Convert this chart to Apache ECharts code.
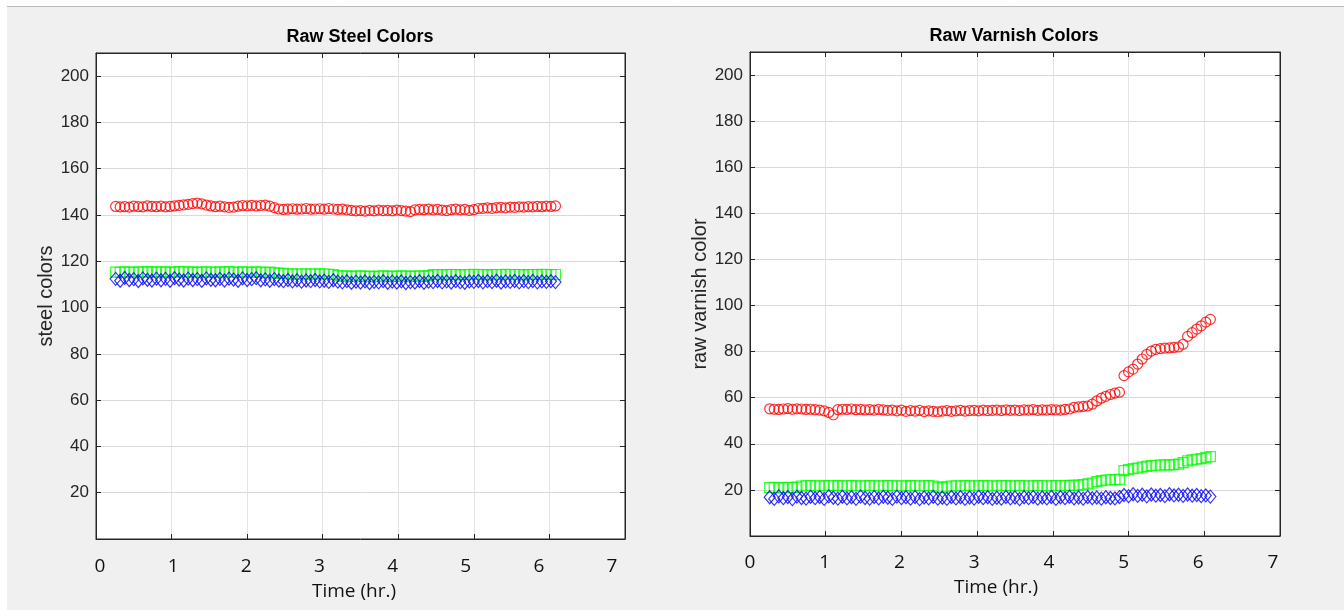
<!DOCTYPE html>
<html>
<head>
<meta charset="utf-8">
<title>Raw Steel / Varnish Colors</title>
<script src="https://cdn.jsdelivr.net/npm/echarts@6/dist/echarts.min.js"></script>
<style>
  html, body { margin: 0; padding: 0; background: #f0f0f0; }
  #main { width: 1344px; height: 610px; }
</style>
</head>
<body>
<div id="main"></div>
<script>
// sample times (hr.), shared by both panels
const timeHr = [
  0.26, 0.32, 0.38, 0.44, 0.50, 0.56, 0.62, 0.68, 0.74, 0.80,
  0.86, 0.92, 0.98, 1.04, 1.10, 1.16, 1.22, 1.28, 1.34, 1.40,
  1.46, 1.52, 1.58, 1.64, 1.70, 1.76, 1.82, 1.88, 1.94, 2.00,
  2.06, 2.12, 2.18, 2.24, 2.30, 2.36, 2.42, 2.48, 2.54, 2.60,
  2.66, 2.72, 2.78, 2.84, 2.90, 2.96, 3.02, 3.08, 3.14, 3.20,
  3.26, 3.32, 3.38, 3.44, 3.50, 3.56, 3.62, 3.68, 3.74, 3.80,
  3.86, 3.92, 3.98, 4.04, 4.10, 4.16, 4.22, 4.28, 4.34, 4.40,
  4.46, 4.52, 4.58, 4.64, 4.70, 4.76, 4.82, 4.88, 4.94, 5.00,
  5.06, 5.12, 5.18, 5.24, 5.30, 5.36, 5.42, 5.48, 5.54, 5.60,
  5.66, 5.72, 5.78, 5.84, 5.90, 5.96, 6.02, 6.08
];

// left panel: steel colors
const steelRed = [
  143.7, 143.5, 143.6, 143.4, 143.8, 143.6, 143.5, 143.9, 143.7, 143.6,
  143.8, 143.5, 143.7, 143.9, 144.2, 144.4, 144.6, 144.9, 145.1, 144.8,
  144.3, 143.9, 143.6, 143.8, 143.5, 143.3, 143.4, 143.8, 144.1, 144.0,
  144.2, 143.9, 144.1, 144.3, 143.8, 143.2, 142.6, 142.4, 142.5, 142.7,
  142.5, 142.6, 142.8, 142.5, 142.6, 142.7, 142.5, 142.8, 142.6, 142.4,
  142.5, 142.2, 142.0, 141.8, 141.9, 141.7, 142.0, 141.8, 142.1, 141.9,
  142.0, 141.8, 142.1, 141.9, 141.7, 141.5, 142.2, 142.4, 142.3, 142.5,
  142.2, 142.4, 142.1, 141.9, 142.3, 142.5, 142.2, 142.4, 142.0, 142.3,
  142.8, 142.9, 143.1, 142.9, 143.2, 143.3, 143.1, 143.4, 143.3, 143.5,
  143.4, 143.6, 143.5, 143.7, 143.6, 143.8, 143.7, 143.9
];
const steelGreen = [
  115.3, 115.2, 115.4, 115.3, 115.2, 115.4, 115.3, 115.5, 115.3, 115.4,
  115.3, 115.4, 115.2, 115.3, 115.5, 115.4, 115.3, 115.4, 115.2, 115.3,
  115.4, 115.3, 115.2, 115.4, 115.3, 115.5, 115.3, 115.2, 115.4, 115.3,
  115.2, 115.4, 115.3, 115.1, 115.3, 115.0, 114.9, 114.8, 114.5, 114.6,
  114.4, 114.5, 114.6, 114.4, 114.5, 114.6, 114.5, 114.4, 114.3, 113.8,
  113.6, 113.7, 113.5, 113.6, 113.7, 113.5, 113.6, 113.4, 113.6, 113.7,
  113.5, 113.6, 113.5, 113.7, 113.6, 113.5, 113.6, 113.7, 113.5, 113.8,
  114.2, 114.3, 114.1, 114.2, 114.3, 114.2, 114.1, 114.3, 114.2, 114.4,
  114.2, 114.3, 114.1, 114.2, 114.3, 114.2, 114.4, 114.3, 114.2, 114.3,
  114.1, 114.2, 114.3, 114.2, 114.4, 114.3, 114.2, 114.3
];
const steelBlue = [
  112.4, 111.6, 112.8, 111.9, 112.3, 111.5, 112.6, 112.0, 111.7, 112.5,
  111.8, 112.4, 111.6, 112.7, 112.1, 111.7, 112.5, 111.9, 112.3, 111.6,
  112.6, 112.0, 111.8, 112.4, 111.7, 112.5, 112.1, 111.6, 112.6, 111.9,
  112.3, 112.7, 111.8, 112.2, 111.6, 112.3, 111.7, 111.4, 111.9, 111.3,
  111.8, 111.2, 111.7, 111.4, 111.9, 111.3, 111.6, 111.1, 111.8, 111.2,
  110.9, 111.4, 110.7, 111.2, 110.8, 111.3, 110.6, 111.1, 110.9, 111.4,
  110.7, 111.2, 110.8, 111.3, 110.6, 111.0, 110.8, 111.4, 110.7, 111.2,
  111.0, 111.5, 110.9, 111.3, 110.8, 111.4, 111.0, 110.7, 111.3, 111.1,
  111.5, 110.9, 111.4, 111.0, 111.6, 110.8, 111.3, 111.1, 111.5, 110.9,
  111.4, 111.0, 111.5, 110.9, 111.3, 111.1, 111.4, 111.0
];

// right panel: raw varnish colors
const varnishRed = [
  55.2, 55.0, 54.9, 55.1, 55.3, 55.0, 55.2, 55.1, 54.9, 55.0,
  54.8, 54.6, 54.3, 53.6, 52.6, 54.8, 55.0, 54.9, 55.1, 54.8,
  54.9, 54.7, 54.8, 54.6, 54.9, 54.7, 54.5, 54.6, 54.3, 54.6,
  54.1, 54.4, 54.2, 54.5, 54.0, 54.3, 54.1, 53.9, 54.2, 54.4,
  54.1, 54.3, 54.5, 54.2, 54.4, 54.5, 54.3, 54.6, 54.4, 54.5,
  54.6, 54.4, 54.7, 54.5, 54.6, 54.4, 54.7, 54.6, 54.8, 54.5,
  54.7, 54.6, 54.8, 54.7, 54.6, 54.9, 55.1, 55.8, 56.0, 56.2,
  56.4, 57.2, 58.6, 59.8, 60.6, 61.4, 62.0, 62.4, 69.6, 71.2,
  72.4, 74.6, 76.8, 78.8, 80.2, 81.0, 81.3, 81.5, 81.6, 81.8,
  82.0, 83.2, 86.6, 88.2, 89.8, 91.2, 92.8, 94.0
];
const varnishGreen = [
  21.0, 21.1, 20.9, 21.0, 21.1, 21.0, 21.2, 21.7, 21.8, 21.9,
  21.8, 21.7, 21.9, 21.8, 21.8, 21.9, 21.7, 21.8, 21.9, 21.8,
  21.7, 21.8, 21.9, 21.8, 21.7, 21.8, 21.9, 21.8, 21.7, 21.8,
  21.6, 21.9, 21.8, 21.7, 21.8, 21.9, 21.7, 21.2, 21.1, 21.3,
  21.7, 21.8, 21.7, 21.9, 21.8, 21.7, 21.8, 21.9, 21.8, 21.7,
  21.8, 21.8, 21.9, 21.7, 21.8, 21.9, 21.8, 21.7, 21.8, 21.9,
  21.8, 21.7, 21.8, 21.9, 21.8, 21.9, 22.0, 22.0, 22.1, 22.3,
  22.6, 23.0, 23.6, 24.0, 24.3, 24.4, 24.5, 24.6, 28.4, 28.8,
  29.2, 29.5, 29.9, 30.2, 30.5, 30.7, 30.8, 30.9, 30.9, 31.0,
  31.2, 31.8, 32.6, 33.0, 33.3, 33.6, 34.0, 34.4
];
const varnishBlue = [
  16.8, 16.1, 17.2, 16.4, 16.9, 16.0, 17.1, 16.5, 16.2, 17.0,
  16.4, 16.9, 16.1, 17.2, 16.6, 16.2, 17.0, 16.3, 16.8, 16.1,
  17.1, 16.5, 16.2, 16.9, 16.3, 17.0, 16.6, 16.1, 17.1, 16.4,
  16.8, 16.2, 16.9, 16.0, 16.7, 16.3, 17.0, 16.2, 16.6, 16.1,
  16.9, 16.3, 16.8, 16.1, 16.7, 16.2, 17.0, 16.4, 16.8, 16.1,
  16.6, 16.2, 16.9, 16.3, 16.7, 16.0, 16.8, 16.4, 16.9, 16.2,
  16.7, 16.3, 16.9, 16.1, 16.8, 16.4, 17.0, 16.3, 16.7, 16.2,
  16.9, 16.4, 16.7, 16.2, 16.8, 16.5, 16.3, 16.9, 17.8, 17.3,
  18.1, 17.4, 17.9, 17.2, 18.0, 17.5, 17.8, 17.3, 18.1, 17.6,
  17.9, 17.4, 18.0, 17.5, 17.8, 17.3, 17.6, 17.1
];

const xTicks = [0, 7, 1];      // min, max, step
const yTicks = [0, 210, 20];

const frame = '#262626';
const helv = '"Liberation Sans", Arial, sans-serif';
const strip = '"Open Sans", "Noto Sans", sans-serif';

function pairs(ys) {
  return timeHr.map((t, i) => [t, ys[i]]);
}

// one panel = bottom+top x axes and left+right y axes (box with inward ticks)
function panelX(gi) {
  const base = {
    gridIndex: gi, type: 'value', min: xTicks[0], max: xTicks[1], interval: xTicks[2],
    axisLine: { onZero: false, lineStyle: { color: frame, width: 1 } },
    axisTick: { inside: true, length: 5, lineStyle: { color: frame } },
    axisLabel: { show: false }
  };
  return [
    Object.assign({}, base, { position: 'bottom',
      splitLine: { show: true, lineStyle: { color: '#e3e3e3', width: 1 } } }),
    Object.assign({}, base, { position: 'top', splitLine: { show: false } })
  ];
}
function panelY(gi, name) {
  const base = {
    gridIndex: gi, type: 'value', min: yTicks[0], max: yTicks[1], interval: yTicks[2],
    axisLine: { onZero: false, lineStyle: { color: frame, width: 1 } },
    axisTick: { inside: true, length: 5, lineStyle: { color: frame } }
  };
  return [
    Object.assign({}, base, {
      position: 'left',
      name: name, nameLocation: 'middle', nameGap: 40,
      nameTextStyle: { fontFamily: helv, fontSize: 20, color: frame },
      axisLabel: { fontFamily: helv, fontSize: 17, color: frame, margin: 7,
        showMaxLabel: false, showMinLabel: false },
      splitLine: { show: true, lineStyle: { color: '#d9d9d9', width: 1 } }
    }),
    Object.assign({}, base, { position: 'right', axisLabel: { show: false }, splitLine: { show: false } })
  ];
}
// separate label strip under each panel
function stripX(gi) {
  return {
    gridIndex: gi, type: 'value', min: xTicks[0], max: xTicks[1], interval: xTicks[2],
    axisLine: { show: false }, axisTick: { show: false }, splitLine: { show: false },
    axisLabel: { fontFamily: strip, fontSize: 19, color: '#111', margin: 16 }
  };
}
function stripY(gi) {
  return { gridIndex: gi, type: 'value', min: 0, max: 1, show: false };
}

function markers(name, ys, xi, yi, symbol, size, color) {
  return {
    name: name, type: 'scatter', xAxisIndex: xi, yAxisIndex: yi,
    symbol: symbol, symbolSize: size,
    itemStyle: { color: 'transparent', borderColor: color, borderWidth: 1.2 },
    data: pairs(ys)
  };
}

const chart = echarts.init(document.getElementById('main'));
chart.setOption({
  animation: false,
  backgroundColor: '#f0f0f0',
  graphic: [
    { type: 'rect', shape: { x: 0, y: 0, width: 1344, height: 6 }, style: { fill: '#fff' } },
    { type: 'rect', shape: { x: 0, y: 0, width: 7, height: 610 }, style: { fill: '#fff' } },
    { type: 'line', shape: { x1: 7, y1: 6.5, x2: 1344, y2: 6.5 }, style: { stroke: '#b8b8b8', lineWidth: 1 } }
  ],
  title: [
    { text: 'Raw Steel Colors', left: 360, top: 28, padding: 0, textAlign: 'center',
      textStyle: { fontFamily: helv, fontSize: 18, fontWeight: 'bold', color: '#000' } },
    { text: 'Raw Varnish Colors', left: 1014, top: 27, padding: 0, textAlign: 'center',
      textStyle: { fontFamily: helv, fontSize: 18, fontWeight: 'bold', color: '#000' } },
    { text: 'Time (hr.)', left: 354, top: 582, padding: 0, textAlign: 'center',
      textStyle: { fontFamily: strip, fontSize: 19, fontWeight: 'normal', color: '#111' } },
    { text: 'Time (hr.)', left: 996, top: 578, padding: 0, textAlign: 'center',
      textStyle: { fontFamily: strip, fontSize: 19, fontWeight: 'normal', color: '#111' } }
  ],
  grid: [
    { left: 96, top: 53, width: 529, height: 486, show: true, backgroundColor: '#fff',
      borderColor: frame, borderWidth: 1 },
    { left: 750, top: 52, width: 530, height: 484, show: true, backgroundColor: '#fff',
      borderColor: frame, borderWidth: 1 },
    { left: 100, top: 540, width: 512, height: 1 },
    { left: 750, top: 536, width: 523, height: 1 }
  ],
  xAxis: [].concat(panelX(0), panelX(1), [stripX(2), stripX(3)]),
  yAxis: [].concat(panelY(0, 'steel colors'), panelY(1, 'raw varnish color'), [stripY(2), stripY(3)]),
  series: [
    markers('red', steelRed, 0, 0, 'circle', 10, '#ff0000'),
    markers('green', steelGreen, 0, 0, 'rect', 10, '#00ff00'),
    markers('blue', steelBlue, 0, 0, 'diamond', [11, 13], '#0000ff'),
    markers('red', varnishRed, 2, 2, 'circle', 10, '#ff0000'),
    markers('green', varnishGreen, 2, 2, 'rect', 10, '#00ff00'),
    markers('blue', varnishBlue, 2, 2, 'diamond', [11, 13], '#0000ff')
  ]
});
</script>
</body>
</html>
